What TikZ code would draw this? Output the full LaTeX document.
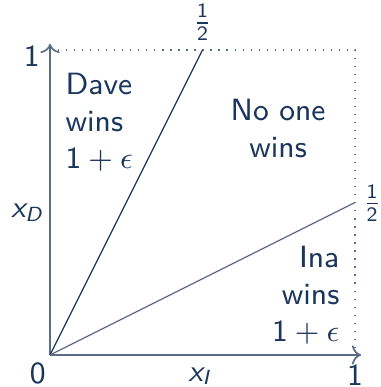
\documentclass[tikz,border=0pt]{standalone}
\usepackage{amsmath}
\usetikzlibrary{arrows.meta,positioning}
\definecolor{navy}{HTML}{1B365D}
\definecolor{axisgray}{HTML}{5A6D88}
\newcommand{\sfnum}[1]{\textsf{\upshape #1}}
\newcommand{\sfvar}[1]{\textsf{\itshape #1}}

\begin{document}
\begin{tikzpicture}[
    x=3.14cm,
    y=3.14cm,
    font=\fontsize{9}{10.8}\sffamily\selectfont,
    text=navy,
    axis/.style={
        ->,
        line width=0.5pt,
        draw=axisgray
    },
    border/.style={
        dotted,
        line width=0.35pt,
        draw=axisgray
    },
    split/.style={
        line width=0.35pt
    },
    region/.style={
        inner sep=0pt
    }
]
\useasboundingbox (-0.164,-0.105) rectangle (1.085,1.164);

\coordinate (origin) at (0,0);
\coordinate (xend) at (1.02,0);
\coordinate (yend) at (0,1.02);
\coordinate (corner) at (1,1);
\coordinate (tophalf) at (0.5,1);
\coordinate (righthalf) at (1,0.5);

% axes and box
\draw[border] (0,1) -- (corner) -- (1,0);
\draw[axis] (origin) -- (xend);
\draw[axis] (origin) -- (yend);

% the two split lines
\draw[split, draw=navy] (origin) -- (tophalf);
\draw[split, draw=axisgray] (origin) -- (righthalf);

% tick labels
\node (zero) at (-0.04,-0.06) {0};
\node (xone) at (1.0,-0.066) {1};
\node (yone) at (-0.06,0.98) {1};
\node (xhalf) at (0.5,1.09) {$\frac{\sfnum{1}}{\sfnum{2}}$};
\node (yhalf) at (1.056,0.498) {$\frac{\sfnum{1}}{\sfnum{2}}$};

% axis labels
\node (xlabel) at (0.49,-0.07) {$\sfvar{x}_{\sfvar{I}}$};
\node (ylabel) at (-0.075,0.466) {$\sfvar{x}_{\sfvar{D}}$};

% regions
\node[region, align=left, anchor=west] (dave) at (0.049,0.764)
    {Dave\\wins\\$\sfnum{1}+\epsilon$};
\node[region, align=center] (noone) at (0.748,0.744)
    {No one\\wins};
\node[region, align=right, anchor=east] (ina) at (0.951,0.197)
    {Ina\\wins\\$\sfnum{1}+\epsilon$};

\end{tikzpicture}
\end{document}
